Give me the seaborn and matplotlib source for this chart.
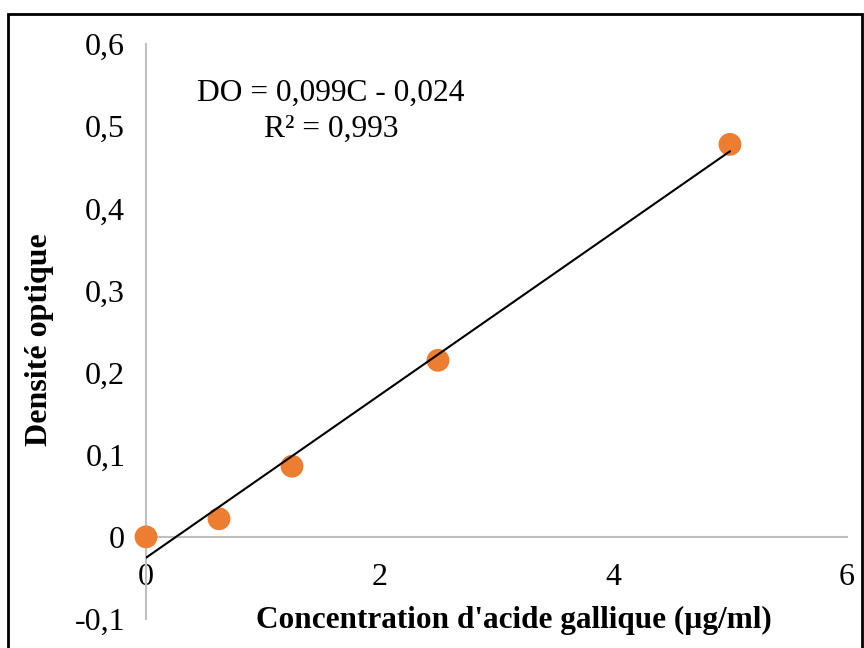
import matplotlib
matplotlib.use("Agg")
import matplotlib.pyplot as plt
import seaborn as sns
import pandas as pd
from matplotlib.patches import Rectangle

# concentration (µg/ml) vs optical density
conc = [0.0, 0.625, 1.25, 2.5, 5.0]
do_vals = [0.0, 0.022, 0.086, 0.215, 0.478]

xticks = [0, 2, 4, 6]
xtick_labels = ["0", "2", "4", "6"]
yticks = [-0.1, 0.0, 0.1, 0.2, 0.3, 0.4, 0.5, 0.6]
ytick_labels = ["-0,1", "0", "0,1", "0,2", "0,3", "0,4", "0,5", "0,6"]

eq_text = "DO = 0,099C - 0,024"
r2_text = "R² = 0,993"

df = pd.DataFrame({"C": conc, "DO": do_vals})

sns.set_style("white")
plt.rcParams["font.family"] = ["Liberation Serif", "DejaVu Serif"]
plt.rcParams["text.color"] = "black"
plt.rcParams["axes.labelcolor"] = "black"

fig = plt.figure(figsize=(8.64, 6.48), dpi=100)
ax = fig.add_axes([0.169, 0.0448, 0.811, 0.887])

sns.regplot(x="C", y="DO", data=df, ax=ax, ci=None, scatter=False, truncate=True,
            line_kws={"color": "black", "lw": 1.5, "zorder": 4})
sns.scatterplot(x="C", y="DO", data=df, ax=ax, color="#ED7D31", s=270,
                edgecolor="none", zorder=3, legend=False, clip_on=False)

ax.set_xlim(0, 6)
ax.set_ylim(-0.1, 0.6)
ax.set_xticks(xticks)
ax.set_xticklabels(xtick_labels)
ax.set_yticks(yticks)
ax.set_yticklabels(ytick_labels)

gray = "#bfbfbf"
for s in ["top", "right"]:
    ax.spines[s].set_visible(False)
ax.spines["bottom"].set_position(("data", 0))
ax.spines["bottom"].set_color(gray)
ax.spines["left"].set_color(gray)
ax.spines["bottom"].set_linewidth(1.5)
ax.spines["left"].set_linewidth(1.5)
ax.tick_params(axis="both", colors=gray, length=7, width=1.5, labelsize=23,
               labelcolor="black")
ax.tick_params(axis="y", pad=8)
ax.tick_params(axis="x", pad=12)

ax.set_xlabel("Concentration d'acide gallique (µg/ml)", fontsize=22.5,
              fontweight="bold", va="center")
ax.xaxis.set_label_coords(0.525, -0.003)
ax.set_ylabel("Densité optique", fontsize=23, fontweight="bold")
ax.yaxis.set_label_coords(-0.132, 0.486)

fig.text(331 / 864, 1 - 93 / 648, eq_text, fontsize=22.7, ha="center", va="center")
fig.text(331 / 864, 1 - 129 / 648, r2_text, fontsize=22.7, ha="center", va="center")

# outer frame of the chart area
fig.add_artist(Rectangle((8 / 864, -0.05), 854 / 864, 1.05 - 14 / 648,
                         transform=fig.transFigure, fill=False,
                         edgecolor="black", lw=2))

fig.savefig("out.png", dpi=100)
